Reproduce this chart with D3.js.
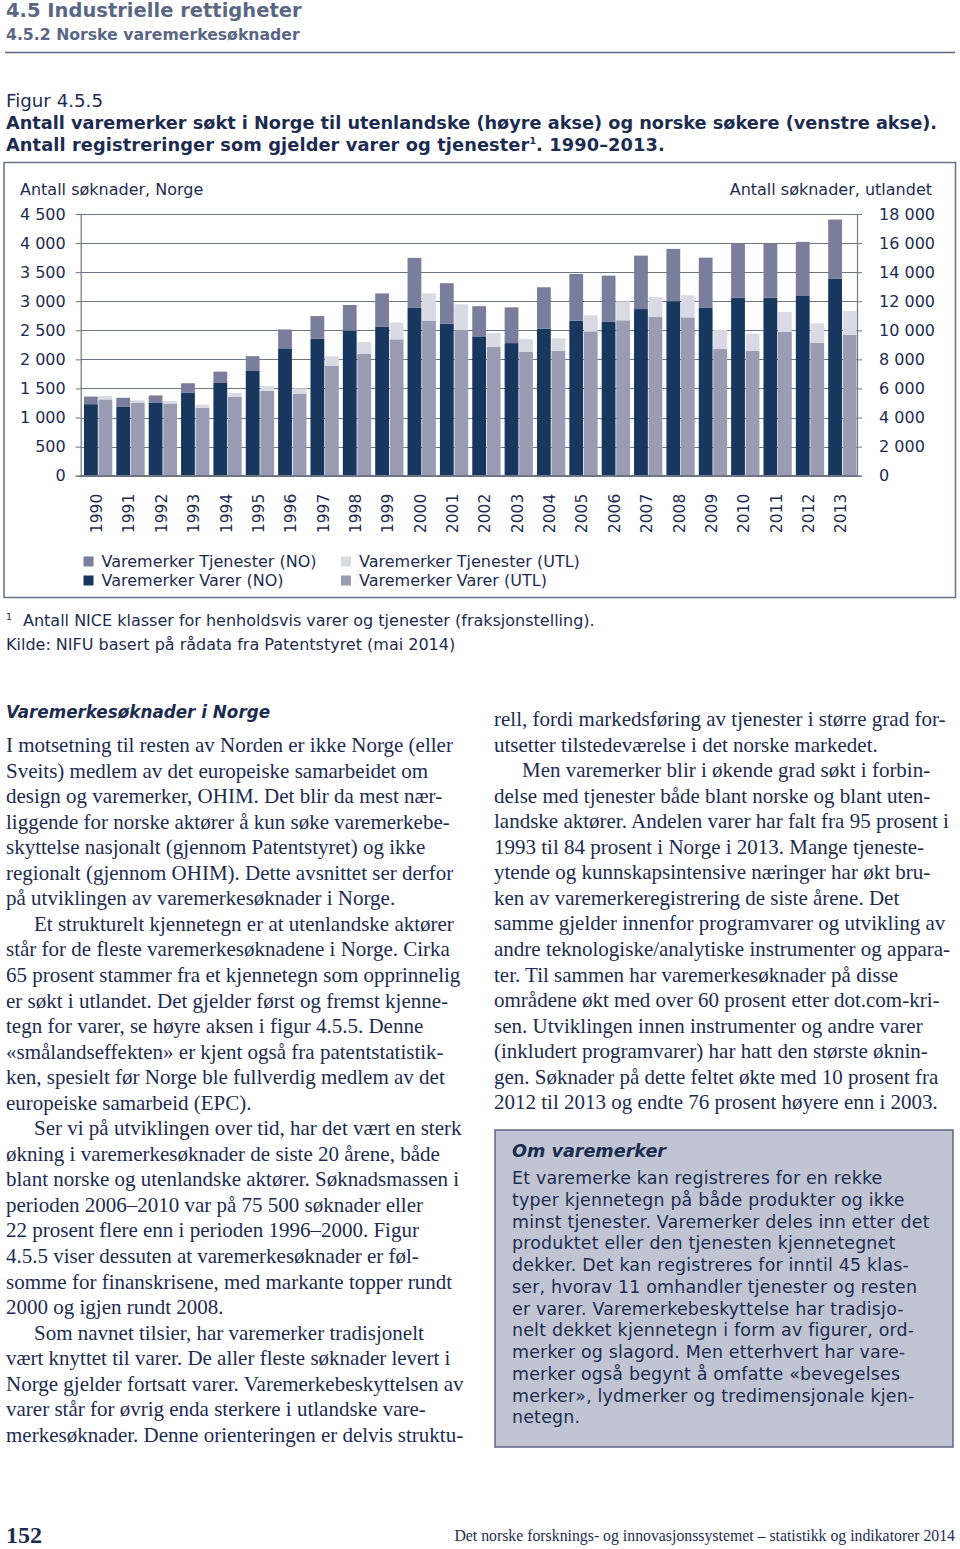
<!DOCTYPE html>
<html><head><meta charset="utf-8">
<script src="https://cdn.jsdelivr.net/npm/d3@7"></script>
<style>
html,body{margin:0;padding:0;background:#fff;}
svg{display:block;}
.sans{font-family:"DejaVu Sans",Verdana,sans-serif;}
.serif{font-family:"Liberation Serif","Times New Roman",serif;}
</style></head>
<body>
<svg id="page" width="960" height="1549"></svg>
<script>
// ---------- data ----------
const years = ["1990","1991","1992","1993","1994","1995","1996","1997","1998","1999","2000","2001","2002","2003","2004","2005","2006","2007","2008","2009","2010","2011","2012","2013"];
const noVarer = [1230,1190,1260,1430,1595,1810,2190,2355,2495,2565,2885,2615,2385,2280,2525,2665,2650,2865,3000,2885,3060,3060,3090,3390];
const noTjenester = [130,150,120,160,195,245,325,390,440,570,860,695,530,615,715,805,790,920,900,865,935,935,930,1015];
const utlVarer = [5250,5000,4955,4680,5435,5850,5620,7570,8395,9380,10640,10025,8855,8530,8580,9930,10690,10940,10895,8715,8580,9885,9130,9700];
const utlTjenester = [230,185,185,205,255,320,390,640,800,1150,1905,1765,960,875,870,1100,1305,1355,1515,1330,1190,1375,1350,1630];
const leftTickValues = [0,500,1000,1500,2000,2500,3000,3500,4000,4500];
const leftTickLabels = ["0","500","1 000","1 500","2 000","2 500","3 000","3 500","4 000","4 500"];
const rightTickValues = [0,2000,4000,6000,8000,10000,12000,14000,16000,18000];
const rightTickLabels = ["0","2 000","4 000","6 000","8 000","10 000","12 000","14 000","16 000","18 000"];
const seriesNames = ["Varemerker Tjenester (NO)","Varemerker Varer (NO)","Varemerker Tjenester (UTL)","Varemerker Varer (UTL)"];

const leftLines = [
 ["I motsetning til resten av Norden er ikke Norge (eller",0],
 ["Sveits) medlem av det europeiske samarbeidet om",0],
 ["design og varemerker, OHIM. Det blir da mest nær-",0],
 ["liggende for norske aktører å kun søke varemerkebe-",0],
 ["skyttelse nasjonalt (gjennom Patentstyret) og ikke",0],
 ["regionalt (gjennom OHIM). Dette avsnittet ser derfor",0],
 ["på utviklingen av varemerkesøknader i Norge.",0],
 ["Et strukturelt kjennetegn er at utenlandske aktører",1],
 ["står for de fleste varemerkesøknadene i Norge. Cirka",0],
 ["65 prosent stammer fra et kjennetegn som opprinnelig",0],
 ["er søkt i utlandet. Det gjelder først og fremst kjenne-",0],
 ["tegn for varer, se høyre aksen i figur 4.5.5. Denne",0],
 ["«smålandseffekten» er kjent også fra patentstatistik-",0],
 ["ken, spesielt før Norge ble fullverdig medlem av det",0],
 ["europeiske samarbeid (EPC).",0],
 ["Ser vi på utviklingen over tid, har det vært en sterk",1],
 ["økning i varemerkesøknader de siste 20 årene, både",0],
 ["blant norske og utenlandske aktører. Søknadsmassen i",0],
 ["perioden 2006–2010 var på 75 500 søknader eller",0],
 ["22 prosent flere enn i perioden 1996–2000. Figur",0],
 ["4.5.5 viser dessuten at varemerkesøknader er føl-",0],
 ["somme for finanskrisene, med markante topper rundt",0],
 ["2000 og igjen rundt 2008.",0],
 ["Som navnet tilsier, har varemerker tradisjonelt",1],
 ["vært knyttet til varer. De aller fleste søknader levert i",0],
 ["Norge gjelder fortsatt varer. Varemerkebeskyttelsen av",0],
 ["varer står for øvrig enda sterkere i utlandske vare-",0],
 ["merkesøknader. Denne orienteringen er delvis struktu-",0]
];
const rightLines = [
 ["rell, fordi markedsføring av tjenester i større grad for-",0],
 ["utsetter tilstedeværelse i det norske markedet.",0],
 ["Men varemerker blir i økende grad søkt i forbin-",1],
 ["delse med tjenester både blant norske og blant uten-",0],
 ["landske aktører. Andelen varer har falt fra 95 prosent i",0],
 ["1993 til 84 prosent i Norge i 2013. Mange tjeneste-",0],
 ["ytende og kunnskapsintensive næringer har økt bru-",0],
 ["ken av varemerkeregistrering de siste årene. Det",0],
 ["samme gjelder innenfor programvarer og utvikling av",0],
 ["andre teknologiske/analytiske instrumenter og appara-",0],
 ["ter. Til sammen har varemerkesøknader på disse",0],
 ["områdene økt med over 60 prosent etter dot.com-kri-",0],
 ["sen. Utviklingen innen instrumenter og andre varer",0],
 ["(inkludert programvarer) har hatt den største øknin-",0],
 ["gen. Søknader på dette feltet økte med 10 prosent fra",0],
 ["2012 til 2013 og endte 76 prosent høyere enn i 2003.",0]
];
const boxLines = [
 "Et varemerke kan registreres for en rekke",
 "typer kjennetegn på både produkter og ikke",
 "minst tjenester. Varemerker deles inn etter det",
 "produktet eller den tjenesten kjennetegnet",
 "dekker. Det kan registreres for inntil 45 klas-",
 "ser, hvorav 11 omhandler tjenester og resten",
 "er varer. Varemerkebeskyttelse har tradisjo-",
 "nelt dekket kjennetegn i form av figurer, ord-",
 "merker og slagord. Men etterhvert har vare-",
 "merker også begynt å omfatte «bevegelses",
 "merker», lydmerker og tredimensjonale kjen-",
 "netegn."
];

// ---------- styles ----------
const C = {
  navy:"#1c2c50", head:"#5a6784", noV:"#17375f", noT:"#7a7e9c", utV:"#9a9cb3", utT:"#d9dae3",
  grid:"#6f7584", frame:"#66708a", boxBg:"#c1c5d3", boxBorder:"#5b6680"
};
const svg = d3.select("#page");
const FIG = 16;

// ---------- header ----------
svg.append("text").attr("class","sans").attr("x",6).attr("y",17).attr("font-size",19.5).attr("font-weight","bold").attr("fill",C.head).text("4.5 Industrielle rettigheter");
svg.append("text").attr("class","sans").attr("x",6).attr("y",40).attr("font-size",15.7).attr("font-weight","bold").attr("fill",C.head).text("4.5.2 Norske varemerkesøknader");
svg.append("line").attr("x1",5).attr("x2",955).attr("y1",52.5).attr("y2",52.5).attr("stroke",C.head).attr("stroke-width",1.5);

svg.append("text").attr("class","sans").attr("x",6).attr("y",107).attr("font-size",17.5).attr("fill",C.navy)
  .attr("textLength",97).attr("lengthAdjust","spacingAndGlyphs").text("Figur 4.5.5");
svg.append("text").attr("class","sans").attr("x",6).attr("y",129).attr("font-size",17.5).attr("font-weight","bold").attr("fill",C.navy)
  .attr("textLength",931).attr("lengthAdjust","spacingAndGlyphs").text("Antall varemerker søkt i Norge til utenlandske (høyre akse) og norske søkere (venstre akse).");
const t2 = svg.append("text").attr("class","sans").attr("x",6).attr("y",151).attr("font-size",17.8).attr("letter-spacing",0.1).attr("font-weight","bold").attr("fill",C.navy);
t2.append("tspan").text("Antall registreringer som gjelder varer og tjenester");
t2.append("tspan").attr("font-size",9.5).attr("dy",-7).text("1");
t2.append("tspan").attr("dy",7).text(". 1990–2013.");

// ---------- figure frame ----------
svg.append("rect").attr("x",4).attr("y",162.5).attr("width",951.5).attr("height",435).attr("fill","none").attr("stroke",C.frame).attr("stroke-width",1.5);

// ---------- chart ----------
const plot = {left:80.7, right:857, top:214, bottom:475.7};
const yL = d3.scaleLinear().domain([0,4500]).range([plot.bottom, plot.top]);
const yR = d3.scaleLinear().domain([0,18000]).range([plot.bottom, plot.top]);
const x = d3.scaleBand().domain(years).range([84,856.5]).paddingInner(0.125).paddingOuter(0);
const xs = d3.scaleBand().domain(["NO","UTL"]).range([0,x.bandwidth()]).paddingInner(0.05);

const g = svg.append("g");
// gridlines
g.append("g").selectAll("line").data(leftTickValues).join("line")
  .attr("x1",plot.left).attr("x2",plot.right).attr("y1",d=>Math.round(yL(d))+0.5).attr("y2",d=>Math.round(yL(d))+0.5)
  .attr("stroke",C.grid).attr("stroke-width",1);

// bars
const rows = years.map((yr,i)=>({yr, noV:noVarer[i], noT:noTjenester[i], uV:utlVarer[i], uT:utlTjenester[i]}));
const bars = g.append("g");
rows.forEach(r=>{
  const x0 = x(r.yr);
  bars.append("rect").attr("x",x0+xs("NO")).attr("width",xs.bandwidth()).attr("y",yL(r.noV)).attr("height",yL(0)-yL(r.noV)).attr("fill",C.noV);
  bars.append("rect").attr("x",x0+xs("NO")).attr("width",xs.bandwidth()).attr("y",yL(r.noV+r.noT)).attr("height",yL(r.noV)-yL(r.noV+r.noT)).attr("fill",C.noT);
  bars.append("rect").attr("x",x0+xs("UTL")).attr("width",xs.bandwidth()).attr("y",yR(r.uV)).attr("height",yR(0)-yR(r.uV)).attr("fill",C.utV);
  bars.append("rect").attr("x",x0+xs("UTL")).attr("width",xs.bandwidth()).attr("y",yR(r.uV+r.uT)).attr("height",yR(r.uV)-yR(r.uV+r.uT)).attr("fill",C.utT);
});

// axes
const axL = d3.axisLeft(yL).tickValues(leftTickValues).tickFormat((d,i)=>leftTickLabels[i]).tickSize(5).tickPadding(10);
const gL = g.append("g").attr("transform",`translate(${plot.left},0)`).call(axL);
const axR = d3.axisRight(yR).tickValues(rightTickValues).tickFormat((d,i)=>rightTickLabels[i]).tickSize(5).tickPadding(17);
const gR = g.append("g").attr("transform",`translate(${plot.right},0)`).call(axR);
[gL,gR].forEach(a=>{
  a.select(".domain").attr("stroke",C.grid).attr("stroke-width",1.2);
  a.selectAll(".tick line").attr("stroke",C.grid);
  a.selectAll(".tick text").attr("font-family","DejaVu Sans, Verdana, sans-serif").attr("font-size",FIG).attr("fill",C.navy);
});
g.append("line").attr("x1",plot.left).attr("x2",plot.right).attr("y1",plot.bottom).attr("y2",plot.bottom).attr("stroke",C.grid).attr("stroke-width",1.5);

// x labels
const axX = d3.axisBottom(x).tickSize(0).tickPadding(0);
const gX = g.append("g").attr("transform",`translate(0,${plot.bottom})`).call(axX);
gX.select(".domain").remove();
gX.selectAll(".tick text")
  .attr("font-family","DejaVu Sans, Verdana, sans-serif").attr("font-size",15.5).attr("fill",C.navy)
  .attr("transform","rotate(-90)").attr("text-anchor","end").attr("x",-18).attr("y",0).attr("dy","0.35em").attr("dx",0);
gX.selectAll(".tick").attr("transform",d=>`translate(${x(d)+x.bandwidth()/2-1.5},0)`);

// axis titles
svg.append("text").attr("class","sans").attr("x",20).attr("y",195).attr("font-size",FIG).attr("fill",C.navy).text("Antall søknader, Norge");
svg.append("text").attr("class","sans").attr("x",932).attr("y",195).attr("text-anchor","end").attr("font-size",FIG).attr("fill",C.navy).text("Antall søknader, utlandet");

// legend
const legendColors = [C.noT, C.noV, C.utT, C.utV];
const legendPos = [[83.5,561.5],[83.5,580.5],[341,561.5],[341,580.5]];
const lg = svg.append("g").selectAll("g").data(seriesNames).join("g").attr("transform",(d,i)=>`translate(${legendPos[i][0]},${legendPos[i][1]})`);
lg.append("rect").attr("x",0).attr("y",-5).attr("width",10).attr("height",10).attr("fill",(d,i)=>legendColors[i]);
lg.append("text").attr("class","sans").attr("x",18).attr("y",0).attr("dy","0.35em").attr("font-size",FIG).attr("fill",C.navy).text(d=>d);

// notes
svg.append("text").attr("class","sans").attr("x",6).attr("y",620).attr("font-size",9.5).attr("fill",C.navy).text("1");
svg.append("text").attr("class","sans").attr("x",23).attr("y",626).attr("font-size",FIG).attr("fill",C.navy).text("Antall NICE klasser for henholdsvis varer og tjenester (fraksjonstelling).");
svg.append("text").attr("class","sans").attr("x",6).attr("y",650).attr("font-size",FIG).attr("fill",C.navy).text("Kilde: NIFU basert på rådata fra Patentstyret (mai 2014)");

// ---------- body text ----------
svg.append("text").attr("class","sans").attr("x",6).attr("y",718).attr("font-size",16.8).attr("font-weight","bold").attr("font-style","italic").attr("fill",C.navy).text("Varemerkesøknader i Norge");
const lh = 25.55;
svg.append("g").selectAll("text").data(leftLines).join("text").attr("class","serif")
  .attr("x",d=>6+(d[1]?28:0)).attr("y",(d,i)=>752+i*lh).attr("font-size",21).attr("fill",C.navy).text(d=>d[0]);
svg.append("g").selectAll("text").data(rightLines).join("text").attr("class","serif")
  .attr("x",d=>494+(d[1]?28:0)).attr("y",(d,i)=>726+i*lh).attr("font-size",21).attr("fill",C.navy).text(d=>d[0]);

// info box
svg.append("rect").attr("x",495).attr("y",1130).attr("width",458).attr("height",317).attr("fill",C.boxBg).attr("stroke",C.boxBorder).attr("stroke-width",1.5);
svg.append("text").attr("class","sans").attr("x",512).attr("y",1157).attr("font-size",17.6).attr("font-weight","bold").attr("font-style","italic").attr("fill",C.navy).text("Om varemerker");
svg.append("g").selectAll("text").data(boxLines).join("text").attr("class","sans")
  .attr("x",512).attr("y",(d,i)=>1184+i*21.75).attr("font-size",17.4).attr("letter-spacing",0.2).attr("fill",C.navy).text(d=>d);

// footer
svg.append("text").attr("class","serif").attr("x",6).attr("y",1543).attr("font-size",24).attr("font-weight","bold").attr("fill",C.navy).text("152");
svg.append("text").attr("class","serif").attr("x",955).attr("y",1541).attr("text-anchor","end").attr("font-size",15.8).attr("fill",C.navy).text("Det norske forsknings- og innovasjonssystemet – statistikk og indikatorer 2014");
</script>
</body></html>
